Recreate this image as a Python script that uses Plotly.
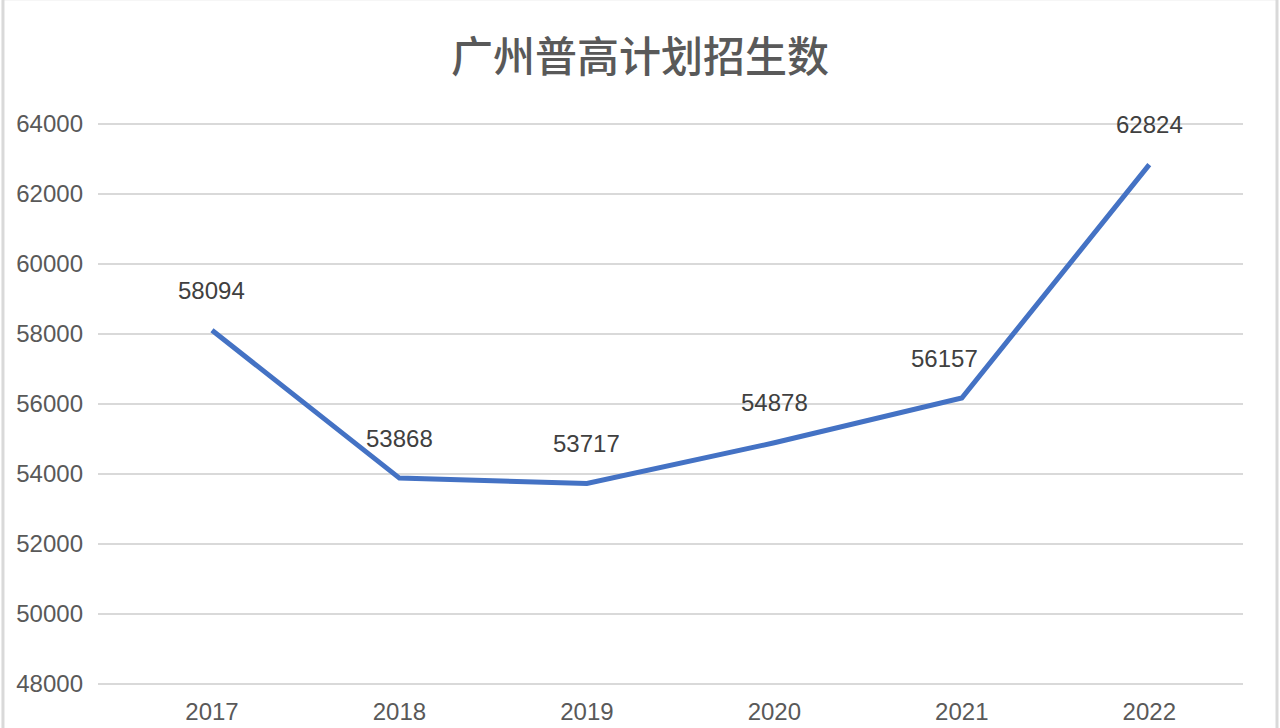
import plotly.graph_objects as go

# 广州普高计划招生数
years = ["2017", "2018", "2019", "2020", "2021", "2022"]
enrolment = [58094, 53868, 53717, 54878, 56157, 62824]
y_ticks = [48000, 50000, 52000, 54000, 56000, 58000, 60000, 62000, 64000]

label_xshift = [0, 0, 0, 0, -17, 0]

fig = go.Figure()
fig.add_trace(go.Scatter(
    x=years, y=enrolment, mode="lines",
    line=dict(color="#4472C4", width=5),
    hoverinfo="x+y", showlegend=False,
))

# data labels sit above each point, like the excel chart
# (x given as category index, a "2017" string would be read as a number)
for i, (v, dx) in enumerate(zip(enrolment, label_xshift)):
    fig.add_annotation(x=i, y=v, text=str(v), showarrow=False,
                       yshift=40, xshift=dx,
                       font=dict(size=24, color="#404040"))

fig.update_layout(
    width=1280, height=728,
    paper_bgcolor="white", plot_bgcolor="white",
    font=dict(family="Liberation Sans, Arial, sans-serif"),
    title=dict(text="广州普高计划招生数", x=0.5, xanchor="center",
               y=1 - 57 / 728, yanchor="middle",
               font=dict(size=42, color="#595959", weight=500,
                         family="Noto Sans CJK SC")),
    # range padded a little so the 48000/64000 gridlines are not dropped
    margin=dict(l=98, r=37, t=120, b=41),
    xaxis=dict(type="category", range=[-0.608, 5.5], showgrid=False,
               showline=False, ticks="", ticklabelstandoff=8,
               automargin=False,
               tickfont=dict(size=24, color="#595959")),
    yaxis=dict(range=[47900, 64100], tickvals=y_ticks, tickformat="d",
               showgrid=True, gridcolor="#d9d9d9", gridwidth=2,
               zeroline=False, showline=False, ticklabelstandoff=14,
               automargin=False,
               tickfont=dict(size=24, color="#595959")),
    shapes=[dict(type="rect", xref="paper", yref="paper",
                 x0=-0.083, x1=1.0297, y0=-0.2, y1=1.214,
                 line=dict(color="#d9d9d9", width=3))],
)

# page body has a default 8px margin, drop it so the chart sits at 0,0
fig.write_html("out.html", config={"displayModeBar": False},
               post_script="document.body.style.margin='0';")
